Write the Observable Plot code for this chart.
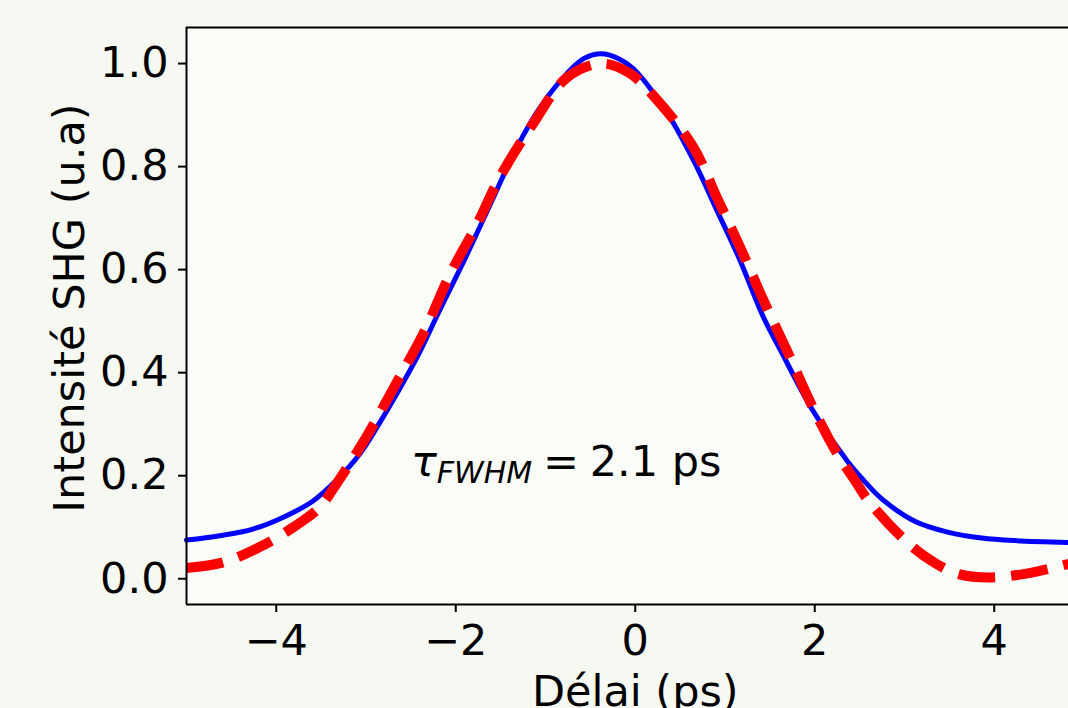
<!DOCTYPE html>
<html>
<head>
<meta charset="utf-8">
<script src="https://cdn.jsdelivr.net/npm/d3@7"></script>
<script src="https://cdn.jsdelivr.net/npm/@observablehq/plot@0.6"></script>
<style>
html, body { margin: 0; padding: 0; background: #f5f9f2; overflow: hidden; width: 1068px; height: 708px; }
#chart svg { display: block; }
</style>
</head>
<body>
<div id="chart"></div>
<script>
// Fit (solid blue) curve
const fitX = [-5, -4.63, -4.26, -3.89, -3.59, -3.33, -3.07, -2.85, -2.66, -2.41, -2.21, -1.87, -1.58, -1.32, -1.06, -0.76, -0.57, -0.38, -0.19, -0.02, 0.36, 0.65, 0.91, 1.17, 1.43, 1.62, 1.98, 2.36, 2.55, 2.74, 3.12, 3.49, 3.86, 4.23, 4.83];
const fitY = [0.075, 0.0835, 0.0965, 0.122, 0.151, 0.191, 0.242, 0.302, 0.358, 0.437, 0.510, 0.631, 0.740, 0.837, 0.915, 0.981, 1.010, 1.019, 1.010, 0.990, 0.903, 0.812, 0.715, 0.617, 0.507, 0.443, 0.326, 0.229, 0.190, 0.156, 0.111, 0.090, 0.079, 0.074, 0.0705];

// Measured data (dashed red) curve
const dataX = [-5, -4.59, -4.19, -3.81, -3.52, -3.33, -3.00, -2.85, -2.63, -2.36, -2.06, -1.76, -1.51, -1.14, -0.76, -0.38, -0.06, 0.25, 0.65, 0.91, 1.17, 1.43, 1.69, 1.98, 2.25, 2.45, 2.60, 3.01, 3.30, 3.60, 3.97, 4.42, 4.83];
const dataY = [0.021, 0.032, 0.061, 0.100, 0.138, 0.184, 0.274, 0.320, 0.390, 0.476, 0.592, 0.689, 0.779, 0.883, 0.973, 1.000, 0.981, 0.928, 0.837, 0.740, 0.643, 0.540, 0.443, 0.332, 0.243, 0.190, 0.151, 0.074, 0.035, 0.009, 0.0025, 0.012, 0.029];

const xTicks = [-4, -2, 0, 2, 4];
const yTicks = [0, 0.2, 0.4, 0.6, 0.8, 1.0];
const xLabel = "Délai (ps)";
const yLabel = "Intensité SHG (u.a)";
const annotTau = "τ";
const annotSub = "FWHM";
const annotRest = "\u2005=\u20052.1 ps";
const annotPos = [{x: -2.5, y: 0.2}];

const fit = fitX.map((x, i) => ({x, y: fitY[i]}));
const data = dataX.map((x, i) => ({x, y: dataY[i]}));

const FS = 43;
const chart = Plot.plot({
  width: 1068,
  height: 708,
  marginLeft: 186,
  marginRight: 0,
  marginTop: 27,
  marginBottom: 104,
  style: {background: "#f5f9f2", fontFamily: "'DejaVu Sans', sans-serif", fontSize: FS + "px", color: "black", overflow: "hidden"},
  x: {domain: [-5, 5], range: [186, 1083.5]},
  y: {domain: [-0.05, 1.07]},
  marks: [
    Plot.frame({fill: "#fafcf8", stroke: null}),
    Plot.line(fit, {x: "x", y: "y", stroke: "#0000ff", strokeWidth: 5, curve: "catmull-rom"}),
    Plot.line(data, {x: "x", y: "y", stroke: "#ff0000", strokeWidth: 10, strokeDasharray: "37,16", strokeLinecap: "butt", curve: "catmull-rom"}),
    Plot.ruleX([-5], {stroke: "black", strokeWidth: 2}),
    Plot.ruleY([-0.05, 1.07], {stroke: "black", strokeWidth: 2}),
    Plot.axisX({ticks: xTicks, tickSize: 8, tickPadding: 12, strokeWidth: 2, fontSize: FS, label: null, tickFormat: d3.format("d")}),
    Plot.axisY({ticks: yTicks, tickSize: 8, tickPadding: 10, strokeWidth: 2, fontSize: FS, label: null, tickFormat: d3.format(".1f")}),
    Plot.text([yLabel], {text: d => d, frameAnchor: "left", textAnchor: "middle", lineAnchor: "middle", rotate: -90, dx: -116, dy: -8, fontSize: FS, fill: "black"}),
    Plot.text([{x: 0, t: xLabel}], {x: "x", text: "t", frameAnchor: "bottom", lineAnchor: "bottom", dy: 101, fontSize: FS, fill: "black"}),
    Plot.text(annotPos, {x: "x", y: "y", text: () => annotTau + annotSub + annotRest, textAnchor: "start", lineAnchor: "bottom", fontSize: FS, fill: "black"})
  ]
});

// Build the mathtext-like annotation with tspans
const full = annotTau + annotSub + annotRest;
const t = Array.from(chart.querySelectorAll("text")).find(el => el.textContent === full);
if (t) {
  t.textContent = "";
  t.setAttribute("style", "white-space: pre");
  const ns = "http://www.w3.org/2000/svg";
  const s1 = document.createElementNS(ns, "tspan");
  s1.setAttribute("font-style", "italic");
  s1.textContent = annotTau;
  const s2 = document.createElementNS(ns, "tspan");
  s2.setAttribute("font-style", "italic");
  s2.setAttribute("font-size", "30px");
  s2.setAttribute("dy", "7");
  s2.textContent = annotSub;
  const s3 = document.createElementNS(ns, "tspan");
  s3.setAttribute("dy", "-7");
  s3.setAttribute("font-size", FS + "px");
  s3.textContent = annotRest;
  t.append(s1, s2, s3);
}
document.getElementById("chart").append(chart);
</script>
</body>
</html>
